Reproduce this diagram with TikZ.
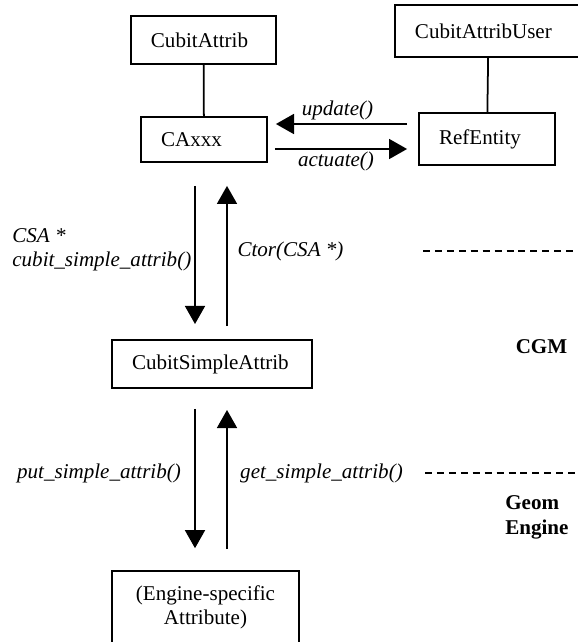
\documentclass[tikz,border=0pt]{standalone}
\usepackage{fontspec}
\setmainfont{Liberation Serif}
\usetikzlibrary{arrows.meta}
\begin{document}
\begin{tikzpicture}[x=0.57pt,y=-0.57pt,
  box/.style={draw, line width=1pt, inner xsep=11.4pt, inner ysep=0pt, align=left, font=\fontsize{12}{14}\selectfont},
  call/.style={-{Triangle[length=10.3pt,width=11.4pt]}, line width=1pt},
  lbl/.style={font=\fontsize{12}{13.7}\selectfont\itshape, inner sep=0pt},
  layer/.style={font=\fontsize{12}{14.25}\selectfont\bfseries, align=left, inner sep=0pt},
  sep/.style={dash pattern=on 4pt off 2.8pt, line width=1pt}]
\useasboundingbox (0,0) rectangle (578,642);
\node[box, text width=59.9pt, minimum height=27.4pt] (attr) at (203.5,40){CubitAttrib};
\node[box, text width=83.8pt, minimum height=29.6pt] (user) at (488.5,31){CubitAttribUser};
\node[box, text width=49pt, minimum height=25.7pt] (caxxx) at (204,139.5){CAxxx};
\node[box, text width=54.7pt, minimum height=29.6pt] (ref) at (487,139){RefEntity};
\node[box, text width=91.2pt, minimum height=27.4pt] (csa) at (212,364){CubitSimpleAttrib};
\node[box, inner xsep=4pt, text width=98.6pt, align=center, minimum height=41.6pt] (eng) at (205.5,607.5){(Engine-specific\\Attribute)};
\draw[line width=1pt](attr) -- (caxxx);
\draw[line width=1pt](user) -- (ref);
\coordinate (rowU) at (0,124);
\coordinate (rowA) at (0,149);
\coordinate (colD) at (195,0);
\coordinate (colU) at (227,0);
\draw[call, shorten <=6.3pt, shorten >=4.6pt](ref.west |- rowU) -- (caxxx.east |- rowU);
\draw[call, shorten <=4pt, shorten >=6.3pt](caxxx.east |- rowA) -- (ref.west |- rowA);
\draw[call, shorten <=13.1pt, shorten >=8.6pt](caxxx.south -| colD) -- (csa.north -| colD);
\draw[call, shorten <=7.4pt, shorten >=13.1pt](csa.north -| colU) -- (caxxx.south -| colU);
\draw[call, shorten <=11.4pt, shorten >=12.5pt](csa.south -| colD) -- (eng.north -| colD);
\draw[call, shorten <=12pt, shorten >=12pt](eng.north -| colU) -- (csa.south -| colU);
\node[lbl] (lupdate) at (337.5,110){update()};
\node[lbl] (lactuate) at (336,161){actuate()};
\node[lbl, align=left, anchor=west] (lget) at (12,250){CSA *\\cubit\_simple\_attrib()};
\node[lbl] (lctor) at (290.5,251){Ctor(CSA *)};
\node[lbl] (lputs) at (99,473){put\_simple\_attrib()};
\node[lbl] (lgets) at (321.5,473){get\_simple\_attrib()};
\coordinate (cut1a) at (423,251);
\coordinate (cut1b) at (582,251);
\coordinate (cut2a) at (425,473);
\coordinate (cut2b) at (582,473);
\draw[sep](cut1a) -- (cut1b);
\draw[sep](cut2a) -- (cut2b);
\node[layer] (cgm) at (541.5,347){CGM};
\node[layer, anchor=west] (geom) at (505,517.5){Geom\\Engine};
\end{tikzpicture}
\end{document}
